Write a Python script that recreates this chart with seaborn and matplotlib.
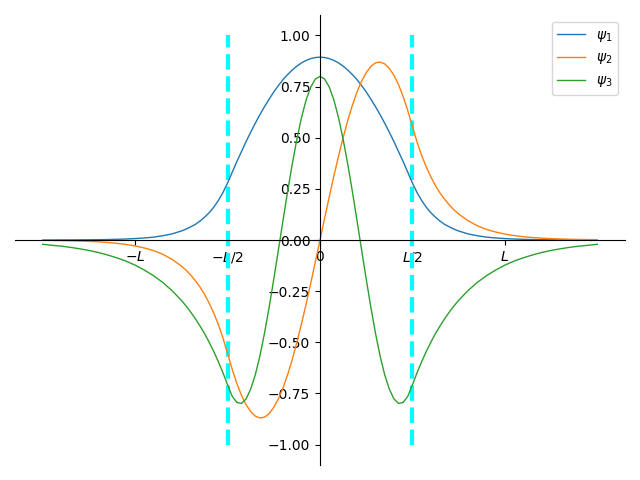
import matplotlib
matplotlib.use("Agg")
import matplotlib.pyplot as plt
import seaborn as sns
import numpy as np

# x in units of L
x = [-1.5, -1.45, -1.4, -1.35, -1.3, -1.25, -1.2, -1.15, -1.1, -1.05, -1.0, -0.95, -0.9, -0.85, -0.8,
     -0.75, -0.725, -0.7, -0.675, -0.65, -0.625, -0.6, -0.575, -0.55, -0.525,
     -0.5, -0.475, -0.45, -0.425, -0.4, -0.375, -0.35, -0.325, -0.3, -0.275,
     -0.25, -0.225, -0.2, -0.175, -0.15, -0.125, -0.1, -0.075, -0.05, -0.025,
     0.0, 0.025, 0.05, 0.075, 0.1, 0.125, 0.15, 0.175, 0.2, 0.225,
     0.25, 0.275, 0.3, 0.325, 0.35, 0.375, 0.4, 0.425, 0.45, 0.475,
     0.5, 0.525, 0.55, 0.575, 0.6, 0.625, 0.65, 0.675, 0.7, 0.725, 0.75,
     0.8, 0.85, 0.9, 0.95, 1.0, 1.05, 1.1, 1.15, 1.2, 1.25, 1.3, 1.35, 1.4, 1.45, 1.5]

psi1 = [0.0002, 0.0002, 0.0004, 0.0005, 0.0008, 0.0011, 0.0016, 0.0023, 0.0033, 0.0048, 0.007, 0.010, 0.014, 0.021, 0.030,
        0.044, 0.053, 0.064, 0.076, 0.092, 0.111, 0.133, 0.160, 0.193, 0.232,
        0.279, 0.331, 0.383, 0.432, 0.481, 0.527, 0.571, 0.613, 0.652, 0.689,
        0.724, 0.755, 0.784, 0.809, 0.831, 0.850, 0.866, 0.878, 0.887, 0.892,
        0.894, 0.892, 0.887, 0.878, 0.866, 0.850, 0.831, 0.809, 0.784, 0.755,
        0.724, 0.689, 0.652, 0.613, 0.571, 0.527, 0.481, 0.432, 0.383, 0.331,
        0.279, 0.232, 0.193, 0.160, 0.133, 0.111, 0.092, 0.076, 0.064, 0.053, 0.044,
        0.030, 0.021, 0.014, 0.010, 0.007, 0.0048, 0.0033, 0.0023, 0.0016, 0.0011, 0.0008, 0.0005, 0.0004, 0.0002, 0.0002]

psi2 = [-0.0015, -0.0020, -0.0027, -0.0037, -0.0050, -0.0066, -0.0089, -0.0120, -0.0161, -0.0216, -0.029, -0.039, -0.052, -0.070, -0.095,
        -0.127, -0.147, -0.171, -0.198, -0.229, -0.265, -0.308, -0.357, -0.413, -0.479,
        -0.555, -0.632, -0.701, -0.759, -0.805, -0.839, -0.861, -0.870, -0.866, -0.849,
        -0.818, -0.777, -0.723, -0.658, -0.584, -0.500, -0.409, -0.313, -0.211, -0.106,
        0.0, 0.106, 0.211, 0.313, 0.409, 0.500, 0.584, 0.658, 0.723, 0.777,
        0.818, 0.849, 0.866, 0.870, 0.861, 0.839, 0.805, 0.759, 0.701, 0.632,
        0.555, 0.479, 0.413, 0.357, 0.308, 0.265, 0.229, 0.198, 0.171, 0.147, 0.127,
        0.095, 0.070, 0.052, 0.039, 0.029, 0.0216, 0.0161, 0.0120, 0.0089, 0.0066, 0.0050, 0.0037, 0.0027, 0.0020, 0.0015]

psi3 = [-0.021, -0.026, -0.030, -0.036, -0.043, -0.051, -0.061, -0.073, -0.087, -0.103, -0.123, -0.147, -0.175, -0.208, -0.248,
        -0.295, -0.322, -0.352, -0.384, -0.419, -0.457, -0.499, -0.545, -0.595, -0.649,
        -0.708, -0.764, -0.794, -0.799, -0.777, -0.729, -0.659, -0.566, -0.455, -0.328,
        -0.191, -0.048, 0.096, 0.238, 0.372, 0.493, 0.599, 0.685, 0.748, 0.787,
        0.800, 0.787, 0.748, 0.685, 0.599, 0.493, 0.372, 0.238, 0.096, -0.048,
        -0.191, -0.328, -0.455, -0.566, -0.659, -0.729, -0.777, -0.799, -0.794, -0.764,
        -0.708, -0.649, -0.595, -0.545, -0.499, -0.457, -0.419, -0.384, -0.352, -0.322, -0.295,
        -0.248, -0.208, -0.175, -0.147, -0.123, -0.103, -0.087, -0.073, -0.061, -0.051, -0.043, -0.036, -0.030, -0.026, -0.021]

well_edges = [-0.5, 0.5]
xtick_pos = [-1, -0.5, 0, 0.5, 1]
xtick_labels = ["$-L$", "$-L/2$", "0", "$L/2$", "$L$"]

fig, ax = plt.subplots(figsize=(6.4, 4.8), dpi=100)

# well walls first so the curves sit on top
ax.vlines(well_edges, -1, 1, colors="cyan", linestyles="--", linewidth=3)

sns.lineplot(x=x, y=psi1, ax=ax, color="C0", linewidth=1, label=r"$\psi_1$")
sns.lineplot(x=x, y=psi2, ax=ax, color="C1", linewidth=1, label=r"$\psi_2$")
sns.lineplot(x=x, y=psi3, ax=ax, color="C2", linewidth=1, label=r"$\psi_3$")

ax.spines["left"].set_position("zero")
ax.spines["bottom"].set_position("zero")
ax.spines["right"].set_visible(False)
ax.spines["top"].set_visible(False)

ax.set_xticks(xtick_pos)
ax.set_xticklabels(xtick_labels)

ax.legend(loc="upper right")
plt.tight_layout()
plt.savefig("out.png")
